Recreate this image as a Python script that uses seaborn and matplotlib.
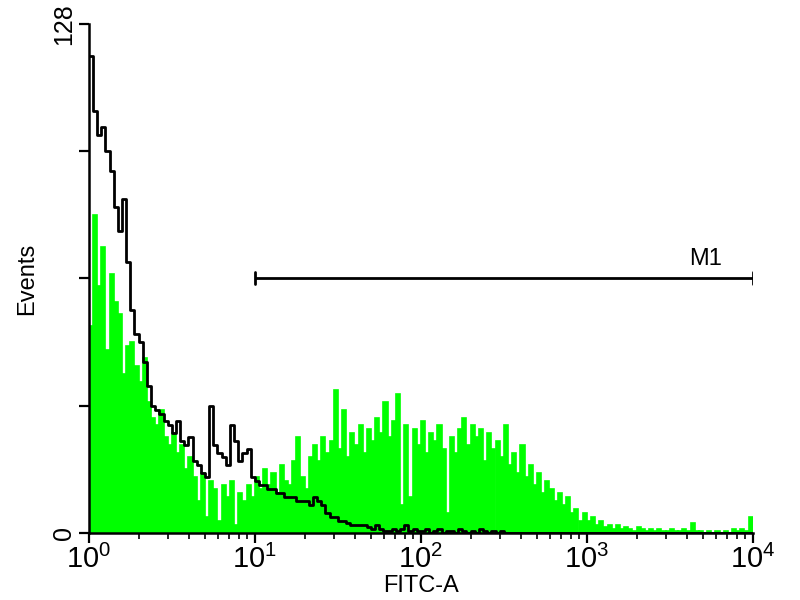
"""
FITC-A histogram (flow cytometry) with M1 gate
"""
# %%
import numpy as np
import pandas as pd
import matplotlib
matplotlib.use("Agg")
import matplotlib.pyplot as plt
import seaborn as sns

# %% data: 40 channels per decade, 1 .. 10^4
channels_per_decade = 40
n_channels = 160

# control sample (black outline)
control_counts = [
    120, 106, 100, 102, 96, 91, 82, 76, 84, 68,
    56, 50, 48, 43, 37, 32, 31, 30, 28, 27,
    25, 28, 23, 22, 24, 18, 17, 15, 14, 32,
    22, 20, 19, 17, 27, 23, 18, 20, 21, 14,
    13, 12, 12, 11, 11, 10, 10, 9, 9, 9,
    8, 8, 8, 7, 9, 8, 7, 5, 4, 4,
    3, 3, 2.5, 2, 2, 2, 2, 1.5, 1, 2,
    1, 0.5, 0.5, 1, 0.5, 1, 2, 0.5, 1, 0.5,
    0.5, 1, 0, 0.5, 1, 0, 0.5, 0.5, 0, 1,
    0.5, 0, 0.5, 0, 1, 0.5, 0, 0.5, 0, 0.5,
] + [0] * 60

# stained sample (green fill)
stained_counts = [
    52, 80, 62, 72, 46, 65, 58, 55, 40, 47,
    48, 42, 38, 44, 33, 29, 27, 31, 24, 22,
    25, 20, 22, 16, 19, 14, 8, 15, 4, 13,
    11, 3, 12, 9, 13, 2, 10, 8, 12, 9,
    14, 11, 16, 12, 15, 10, 17, 13, 12, 18,
    24, 14, 11, 19, 22, 18, 24, 20, 23, 36,
    21, 31, 19, 25, 22, 27, 20, 26, 23, 29,
    25, 33, 24, 28, 35, 7, 27, 9, 26, 22,
    28, 20, 25, 23, 27, 21, 5, 24, 20, 26,
    29, 22, 27, 24, 26, 18, 25, 21, 23, 19,
    27, 17, 20, 15, 22, 14, 17, 12, 15, 10,
    13, 11, 8, 10, 7, 9, 5, 6, 3, 5,
    3, 4, 2, 3, 1.5, 2, 1, 2, 1, 1.5,
    1, 0.5, 1.5, 1, 0.5, 1, 0.5, 1, 0.5, 0.5,
    1, 0.5, 0.5, 1, 0.5, 2.5, 0.5, 0.5, 0, 0.5,
    0, 0.5, 0, 0.5, 0, 1, 0.5, 1, 0.5, 4,
]

# M1 marker gate
m1_range = [10, 10000]
m1_level = 64

y_ticks = [0, 32, 64, 96, 128]
y_tick_labels = ["0", "", "", "", "128"]
x_ticks = [1, 10, 100, 1000, 10000]
x_tick_labels = [r"$\mathregular{10^{%d}}$" % k for k in range(5)]

# %%
chan = np.arange(n_channels)
df = pd.DataFrame({
    "fitc": 10 ** ((chan + 0.5) / channels_per_decade),
    "control": control_counts,
    "stained": stained_counts,
})

# %% plot
sns.set_style("ticks")
plt.rcParams["font.family"] = ["Liberation Sans", "DejaVu Sans"]
plt.rcParams["text.color"] = "black"
plt.rcParams["axes.labelcolor"] = "black"
plt.rcParams["xtick.color"] = "black"
plt.rcParams["ytick.color"] = "black"

fig = plt.figure(figsize=(8, 6), dpi=100)
ax = fig.add_axes([0.111, 0.112, 0.830, 0.848])

sns.histplot(data=df, x="fitc", weights="stained", bins=n_channels,
             binrange=(0, 4), log_scale=True, element="bars", fill=True,
             color="#00ff00", alpha=1, linewidth=1.2, edgecolor="#00ff00", ax=ax)
sns.histplot(data=df, x="fitc", weights="control", bins=n_channels,
             binrange=(0, 4), log_scale=True, element="step", fill=False,
             color="black", linewidth=2, ax=ax)

# M1 gate bar
ax.plot(m1_range, [m1_level, m1_level], color="black", lw=2, solid_capstyle="butt")
for xv in m1_range:
    ax.plot([xv, xv], [m1_level - 1.5, m1_level + 1.5], color="black", lw=2)
ax.text(m1_range[1] * 0.52, m1_level + 2.2, "M1", fontsize=17, ha="center",
        va="bottom", color="black")

ax.set_xlim(1, 10000)
ax.set_ylim(0, 128)
ax.set_yticks(y_ticks)
ax.set_yticklabels(y_tick_labels, rotation=90, va="center", fontsize=18)
ax.set_xticks(x_ticks)
ax.set_xticklabels(x_tick_labels, fontsize=21)
ax.tick_params(axis="both", which="major", length=7, width=1.6, colors="black", pad=2)
ax.tick_params(axis="x", which="minor", length=4, width=1.2, color="black")
ax.tick_params(axis="y", which="minor", length=0)

ax.set_xlabel("FITC-A", fontsize=17, labelpad=0, color="black")
ax.set_ylabel("Events", fontsize=17, labelpad=10, color="black")

sns.despine(ax=ax)
for side in ["left", "bottom"]:
    ax.spines[side].set_linewidth(1.8)
    ax.spines[side].set_color("black")

fig.savefig("out.png", dpi=100)
